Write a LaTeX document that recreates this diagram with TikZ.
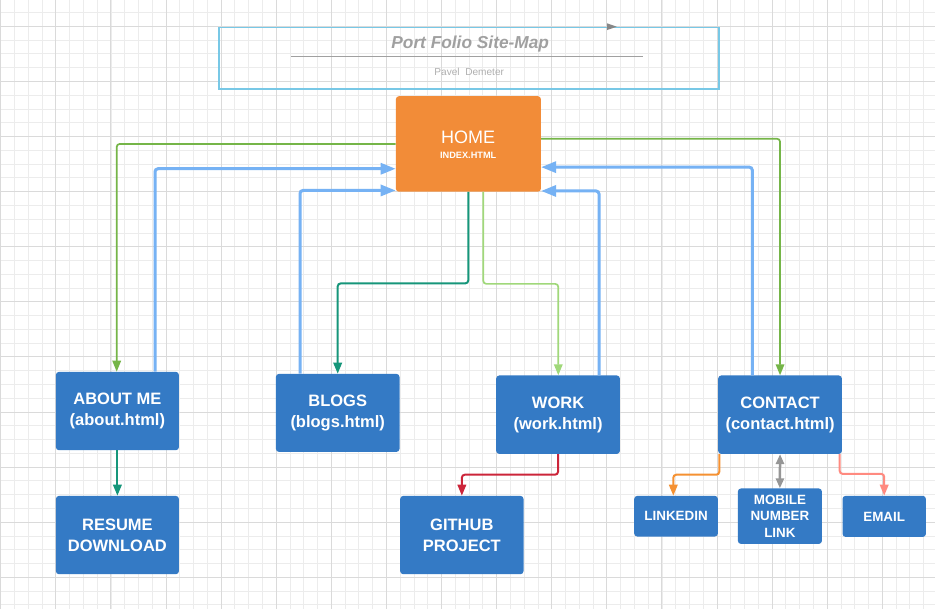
\documentclass[tikz,border=0pt]{standalone}
\usepackage{fontspec}
\setmainfont{Liberation Sans}
\usetikzlibrary{arrows.meta}
\definecolor{boxblue}{RGB}{52,122,197}
\definecolor{homeor}{RGB}{242,140,56}
\definecolor{cgreen}{RGB}{117,181,72}
\definecolor{cblue}{RGB}{118,178,244}
\definecolor{cteal}{RGB}{22,150,122}
\definecolor{clgreen}{RGB}{160,216,122}
\definecolor{cred}{RGB}{204,37,58}
\definecolor{corange}{RGB}{245,145,50}
\definecolor{csalmon}{RGB}{255,138,128}
\definecolor{cgray}{RGB}{150,150,150}
\definecolor{titlecyan}{RGB}{120,200,230}
\definecolor{titlegray}{RGB}{160,160,160}
\definecolor{authgray}{RGB}{175,175,175}
\definecolor{gridminor}{RGB}{236,236,236}
\definecolor{gridmajor}{RGB}{218,218,218}
\begin{document}
\begin{tikzpicture}[x=1pt,y=-1pt,
  box/.style={rectangle, rounded corners=3pt, fill=boxblue, text=white, align=center,
    inner sep=0pt, anchor=north west, font=\bfseries\fontsize{16.5}{21}\selectfont},
  smallbox/.style={box, font=\bfseries\fontsize{13.4}{16.5}\selectfont},
  conn/.style={rounded corners=3pt},
  arrs/.style={-{Triangle[length=11pt,width=8.5pt]}},
  arrb/.style={-{Triangle[length=15pt,width=11pt]}},
  lgreen/.style={conn, arrs, draw=cgreen, line width=1.7pt, cgreen},
  lblue/.style={conn, arrb, draw=cblue, line width=3pt, cblue},
  lteal/.style={conn, arrs, draw=cteal, line width=2pt, cteal},
  llgreen/.style={conn, arrs, draw=clgreen, line width=1.7pt, clgreen},
  lred/.style={conn, arrs, draw=cred, line width=2pt, cred},
  lorange/.style={conn, arrs, draw=corange, line width=2pt, corange},
  lsalmon/.style={conn, arrs, draw=csalmon, line width=2pt, csalmon},
  lgray/.style={{Triangle[length=10pt,width=8pt]}-{Triangle[length=10pt,width=8pt]}, draw=cgray, line width=2.5pt, cgray},
]
\useasboundingbox (0,0) rectangle (935,609);
\fill[white] (0,0) rectangle (935,609);
% grid
\foreach \i in {0,...,68} {\draw[gridminor, line width=0.8pt] ({0.7+\i*13.775},0) -- ++(0,609);}
\foreach \j in {0,...,45} {\draw[gridminor, line width=0.8pt] (0,{-1.25+\j*13.775}) -- ++(935,0);}
\foreach \i in {0,...,17} {\draw[gridmajor, line width=0.9pt] ({0.7+\i*55.1},0) -- ++(0,609);}
\foreach \j in {0,...,11} {\draw[gridmajor, line width=0.9pt] (0,{-28.8+\j*55.1}) -- ++(935,0);}

% title block
\node[draw=titlecyan, line width=1.8pt, minimum width=500pt, minimum height=61.3pt,
  anchor=north west, inner sep=0pt] (titlebox) at (218.3,26.7) {};
\node[anchor=base, inner sep=0pt, text=titlegray, font=\bfseries\itshape\fontsize{17.3}{20}\selectfont] (title) at (470.2,48.9) {Port Folio Site-Map};
\draw[titlegray, line width=1pt] (291,57) -- (643,57);
\node[anchor=base, inner sep=0pt, text=authgray, font=\fontsize{10.1}{12}\selectfont] (author) at (469.2,75.3) {Pavel\ \ Demeter};
\fill[cgray!90!black] (607,23.3) -- (616.7,26.7) -- (607,30.1) -- cycle;

% home
\node[rectangle, rounded corners=3pt, fill=homeor, minimum width=145pt, minimum height=95.5pt,
  anchor=north west, inner sep=0pt] (home) at (395.7,96) {};
\node[text=white, inner sep=0pt, font=\fontsize{18}{20}\selectfont, anchor=base] (hometxt) at (468.2,143.8) {HOME};
\node[text=white, inner sep=0pt, font=\bfseries\fontsize{9.2}{10}\selectfont, anchor=base] (indextxt) at (468.2,158.3) {INDEX.HTML};

% pages
\node[box, minimum width=123pt, minimum height=78.3pt] (about) at (55.7,371.7) {ABOUT ME\\(about.html)};
\node[box, minimum width=123.6pt, minimum height=78pt] (blogs) at (275.7,373.7) {BLOGS\\(blogs.html)};
\node[box, minimum width=123.7pt, minimum height=78.4pt] (work) at (496,375.3) {WORK\\(work.html)};
\node[box, minimum width=123.7pt, minimum height=78.4pt] (contact) at (718,375.3) {CONTACT\\(contact.html)};
\node[box, minimum width=123pt, minimum height=78.3pt] (resume) at (55.7,495.7) {RESUME\\DOWNLOAD};
\node[box, minimum width=123.3pt, minimum height=78.3pt] (github) at (400,495.7) {GITHUB\\PROJECT};
\node[smallbox, minimum width=83.7pt, minimum height=40.6pt] (linkedin) at (634,495.7) {LINKEDIN};
\node[smallbox, minimum width=84pt, minimum height=55.4pt] (mobile) at (737.7,488.3) {MOBILE\\NUMBER\\LINK};
\node[smallbox, minimum width=83.4pt, minimum height=41pt] (email) at (842.3,495.7) {EMAIL};

% connectors
\draw[lgreen] (home.west) -| ([xshift=61pt]about.north west);
\draw[lblue] ([xshift=99.3pt]about.north west) |- ([yshift=-24.8pt]home.west);
\draw[lblue] ([xshift=24.3pt]blogs.north west) |- ([yshift=-46.5pt]home.west);
\draw[lteal] ([xshift=72.6pt]home.south west) -- ++(0,91.5) -| (blogs.north);
\draw[llgreen] ([xshift=87.6pt]home.south west) -- ++(0,92) -| ([xshift=62.3pt]work.north west);
\draw[lblue] ([xshift=103pt]work.north west) |- ([yshift=-47pt]home.east);
\draw[lblue] ([xshift=34.3pt]contact.north west) |- ([yshift=-23.2pt]home.east);
\draw[lgreen] ([yshift=5.2pt]home.east) -| (contact.north);
\draw[lteal] (about.south) -- (resume.north);
\draw[lred] (work.south) -- ++(0,20.6) -| (github.north);
\draw[lorange] ([xshift=1.3pt]contact.south west) -- ++(0,20.6) -| ([xshift=39.3pt]linkedin.north west);
\draw[lgray] (contact.south) -- (mobile.north);
\draw[lsalmon] ([xshift=-2.4pt]contact.south east) -- ++(0,19.8) -| (email.north);
\end{tikzpicture}
\end{document}
